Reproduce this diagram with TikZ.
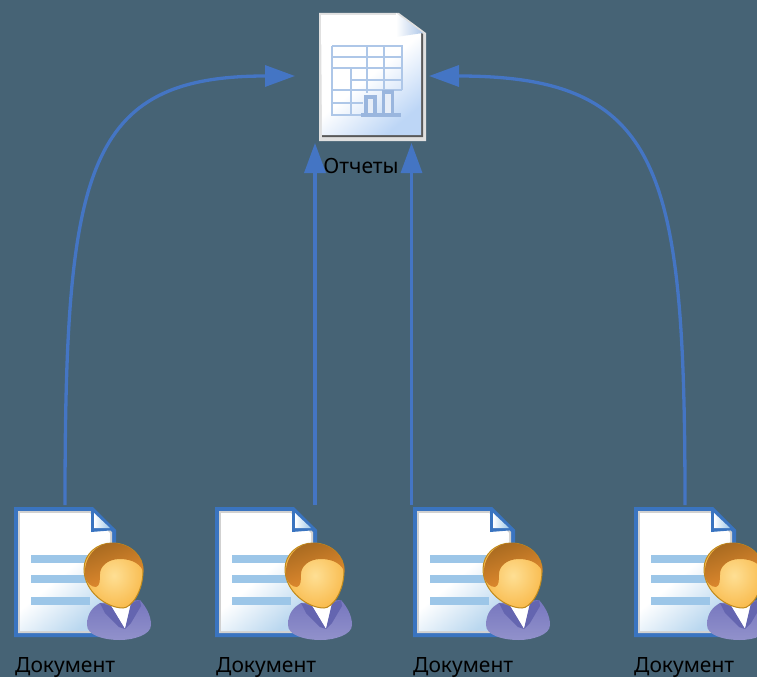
\documentclass[tikz,border=0pt]{standalone}
\usepackage{fontspec}
\setmainfont{Noto Sans}
\usetikzlibrary{arrows.meta,calc}
\definecolor{bgc}{HTML}{466375}
\definecolor{linkc}{HTML}{4475C4}
\definecolor{docb}{HTML}{3A74C0}
\definecolor{barc}{HTML}{9CC6E8}
\definecolor{tabc}{HTML}{AEC7E8}
\definecolor{chartc}{HTML}{9AB6DE}
\definecolor{paleb}{HTML}{BDD6F6}
\definecolor{bodyc}{HTML}{7676BE}
\definecolor{lapelc}{HTML}{6465B0}
\definecolor{facein}{HTML}{FEDF94}
\definecolor{faceout}{HTML}{F9BC50}
\definecolor{faceln}{HTML}{C08A1C}
\definecolor{hairl}{HTML}{A86A20}
\definecolor{hairr}{HTML}{E88E30}
\tikzset{
  x=1pt,y=-1pt,
  link/.style={draw=linkc,line width=3.3pt,-{Triangle[length=30pt,width=21pt,fill=linkc]}},
  anchorbox/.style={inner sep=0pt,outer sep=0pt,minimum width=100pt,minimum height=130pt},
  reportbox/.style={inner sep=0pt,outer sep=0pt,minimum width=134pt,minimum height=134pt},
  caption/.style={inner sep=0pt,text=black,font=\fontsize{21}{25}\selectfont},
  pics/docperson/.style={code={
    % page
    \fill[docb] (0,0) -- (79,0) -- (102,23) -- (102,130) -- (0,130) -- cycle;
    \fill[black!18] (4,4) -- (77,4) -- (98,25) -- (98,126) -- (4,126) -- cycle;
    \shade[shading=axis,top color=white,bottom color=barc!70!white,middle color=white,shading angle=40] (6,6) -- (76,6) -- (96,26) -- (96,124) -- (6,124) -- cycle;
    % fold
    \fill[docb] (77,0) -- (102,23) -- (77,25) -- cycle;
    \shade[left color=white,right color=barc] (80,6) -- (96,21) -- (80,21) -- cycle;
    % bars
    \fill[barc] (17,48) rectangle (76,56);
    \fill[barc] (17,68) rectangle (76,76);
    \fill[barc] (17,90) rectangle (76,98);
    \begin{scope}[xshift=1pt]
    % body
    \shade[top color=bodyc,bottom color=bodyc!80!white] (72,118) .. controls (72,106) and (78,100) .. (85,96)
       -- (125,93) .. controls (131,100) and (136,108) .. (136,118)
       .. controls (136,128) and (118,133) .. (105,133) .. controls (88,133) and (72,128) .. (72,118) -- cycle;
    \fill[white] (95,97) -- (117,95) -- (110,122) -- cycle;
    \fill[lapelc] (85,96) -- (96,99) -- (110,122) -- (104,120) -- (90,106) -- cycle;
    \fill[lapelc] (125,93) -- (116,96) -- (110,122) -- (116,116) -- (126,99) -- cycle;
    % head
    \shade[draw=faceln,line width=1pt,inner color=facein,outer color=faceout]
      (97,36) .. controls (116,36) and (129,50) .. (128,64)
      .. controls (128,85) and (116,101) .. (108,101)
      .. controls (92,101) and (69,85) .. (69,62)
      .. controls (69,47) and (82,36) .. (97,36) -- cycle;
    % hair
    \shade[shading=axis,left color=hairl,right color=hairr,shading angle=20]
      (97,36) .. controls (116,36) and (129,50) .. (128.5,66)
      .. controls (127,58) and (118,52) .. (105,52)
      .. controls (92,52) and (85,60) .. (85,67)
      .. controls (85,73) and (85,79) .. (81,80)
      .. controls (76,80) and (72,76) .. (70,70)
      .. controls (68,50) and (82,36) .. (97,36) -- cycle;
    \end{scope}
  }},
  pics/reporticon/.style={code={
    % outer frame
    \fill[black!12] (0,0) -- (80,0) -- (107,20) -- (107,128) -- (0,128) -- cycle;
    \fill[black!65] (80,3) -- (104,21) -- (104,124) -- (3,124) -- (3,3) -- cycle;
    \shade[shading=axis,top color=white,bottom color=paleb,middle color=white,shading angle=40] (2,2) -- (78,2) -- (102,20) -- (102,122) -- (3,122) -- cycle;
    % fold
    \shade[left color=white,right color=tabc] (77,0) -- (104,20) -- (77,24) -- cycle;
    % table
    \draw[tabc,line width=2.4pt] (13,33) -- (83,33) -- (83,77) (13,33) -- (13,102) -- (50,102);
    \foreach \yy in {44,55,67,77} \draw[tabc,line width=2.4pt] (13,\yy) -- (83,\yy);
    \draw[tabc,line width=2.4pt] (13,90) -- (44,90);
    \draw[tabc,line width=2.4pt] (48,33) -- (48,80) (65,33) -- (65,78) (32,55) -- (32,102);
    \fill[white] (14.2,56.2) rectangle (30.8,75.8);
    % chart
    \fill[chartc] (42,100) rectangle (82,104);
    \fill[chartc] (45,82) rectangle (58,101);
    \fill[white!70!tabc] (49,86) rectangle (54,100);
    \fill[chartc] (63,77) rectangle (75,101);
    \fill[white!70!tabc] (66,81) rectangle (72,100);
  }}
}
\begin{document}
\begin{tikzpicture}
\useasboundingbox[fill=bgc] (0,0) rectangle (757,677);

\node[reportbox] (rep) at (362,76) {};
\node[anchorbox] (doc1) at (65,570) {};
\node[anchorbox] (doc2) at (265,570) {};
\node[anchorbox] (doc3) at (461.5,570) {};
\node[anchorbox] (doc4) at (685,570) {};

\pic at (319,13) {reporticon};
\pic at (14,507) {docperson};
\pic at (215,507) {docperson};
\pic at (413,507) {docperson};
\pic at (634,507) {docperson};

\draw[link] (doc1.north) .. controls ($(doc1.north)+(0,-335)$) and (85,76) .. (rep.west);
\draw[link] (doc4.north) .. controls ($(doc4.north)+(0,-335)$) and (663,76) .. (rep.east);
\draw[link] (doc2.north east) -- (doc2.north east |- rep.south);
\draw[link] (doc3.north west) -- (doc3.north west |- rep.south);

\node[caption,anchor=base] (replabel) at (361,173) {Отчеты};
\node[caption,anchor=base west] (lab1) at (15,672) {Документ};
\node[caption,anchor=base west] (lab2) at (216,672) {Документ};
\node[caption,anchor=base west] (lab3) at (413,672) {Документ};
\node[caption,anchor=base west] (lab4) at (634,672) {Документ};
\end{tikzpicture}
\end{document}
